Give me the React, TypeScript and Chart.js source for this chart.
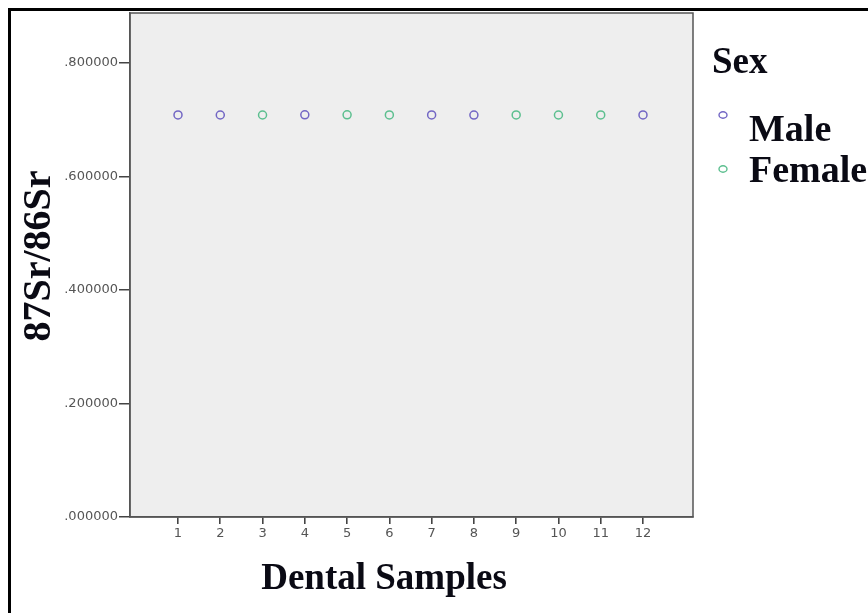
import React, { useEffect, useRef } from "react";
import { Chart, registerables } from "chart.js";

Chart.register(...registerables);

// ---- data ----
const maleSamples = [1, 2, 4, 7, 8, 12];
const maleRatios = [0.7081, 0.7079, 0.7082, 0.7080, 0.7078, 0.7081];
const femaleSamples = [3, 5, 6, 9, 10, 11];
const femaleRatios = [0.7079, 0.7082, 0.7080, 0.7081, 0.7079, 0.7080];
const xTicks = [1, 2, 3, 4, 5, 6, 7, 8, 9, 10, 11, 12];
const yTicks = [0, 0.2, 0.4, 0.6, 0.8];
const seriesNames = ["Male", "Female"];
const legendTitle = "Sex";
const xTitle = "Dental Samples";
const yTitle = "87Sr/86Sr";

const MALE_COLOR = "#7266c4";
const FEMALE_COLOR = "#5cbf8f";
const SERIF = "'Liberation Serif', 'Times New Roman', serif";

const decorPlugin = {
  id: "decor",
  beforeDraw(chart: any) {
    const { ctx, chartArea: a } = chart;
    ctx.save();
    ctx.fillStyle = "#eeeeee";
    ctx.fillRect(a.left, a.top, a.right - a.left, a.bottom - a.top);
    ctx.restore();
  },
  afterDraw(chart: any) {
    const { ctx, chartArea: a } = chart;
    ctx.save();
    // plot frame
    ctx.strokeStyle = "#555555";
    ctx.lineWidth = 1.5;
    ctx.strokeRect(a.left, a.top, a.right - a.left, a.bottom - a.top);
    // outer frame (top & left)
    ctx.fillStyle = "#000000";
    ctx.fillRect(8, 8, 3, 613);
    ctx.fillRect(8, 8, 868, 3);
    // axis titles
    ctx.fillStyle = "#0a0a14";
    ctx.font = `bold 37px ${SERIF}`;
    ctx.textAlign = "center";
    ctx.textBaseline = "alphabetic";
    ctx.fillText(xTitle, 384, 589);
    ctx.save();
    ctx.translate(50, 256);
    ctx.rotate(-Math.PI / 2);
    ctx.font = `bold 40px ${SERIF}`;
    ctx.fillText(yTitle, 0, 0);
    ctx.restore();
    // legend
    ctx.textAlign = "left";
    ctx.font = `bold 37px ${SERIF}`;
    ctx.fillText(legendTitle, 712, 73);
    const colors = [MALE_COLOR, FEMALE_COLOR];
    const baselines = [141, 182];
    const markerY = [115, 169];
    seriesNames.forEach((name, i) => {
      ctx.font = `bold 38px ${SERIF}`;
      ctx.fillStyle = "#0a0a14";
      ctx.fillText(name, 749, baselines[i]);
      ctx.beginPath();
      ctx.ellipse(723, markerY[i], 4, 3.2, 0, 0, Math.PI * 2);
      ctx.strokeStyle = colors[i];
      ctx.lineWidth = 1.4;
      ctx.stroke();
    });
    ctx.restore();
  },
};

export default function App() {
  const ref = useRef<HTMLCanvasElement | null>(null);
  useEffect(() => {
    if (!ref.current) return;
    const tickFont = { family: "'DejaVu Sans', sans-serif", size: 13 };
    const chart = new Chart(ref.current, {
      type: "scatter",
      data: {
        datasets: [
          {
            label: seriesNames[0],
            data: maleSamples.map((x, i) => ({ x, y: maleRatios[i] })),
            borderColor: MALE_COLOR,
            backgroundColor: "rgba(0,0,0,0)",
            pointRadius: 4,
            borderWidth: 1.5,
          },
          {
            label: seriesNames[1],
            data: femaleSamples.map((x, i) => ({ x, y: femaleRatios[i] })),
            borderColor: FEMALE_COLOR,
            backgroundColor: "rgba(0,0,0,0)",
            pointRadius: 4,
            borderWidth: 1.5,
          },
        ],
      },
      options: {
        responsive: false,
        animation: false,
        devicePixelRatio: 1,
        layout: { padding: { left: 0, top: 13, right: 175, bottom: 0 } },
        plugins: { legend: { display: false }, tooltip: { enabled: false } },
        scales: {
          x: {
            type: "linear",
            min: -0.1356,
            max: 13.183,
            afterBuildTicks: (s: any) => {
              s.ticks = xTicks.map((v) => ({ value: v }));
            },
            afterFit: (s: any) => {
              s.height = 96;
            },
            grid: {
              display: true,
              drawOnChartArea: false,
              drawTicks: true,
              tickLength: 7,
              color: "#444444",
              lineWidth: 1.6,
            },
            border: { display: true, color: "#555555", width: 1.5 },
            ticks: {
              font: tickFont,
              color: "#555555",
              padding: 2,
              maxRotation: 0,
              autoSkip: false,
              callback: (v: any) => String(v),
            },
          },
          y: {
            type: "linear",
            min: 0,
            max: 0.8875,
            afterBuildTicks: (s: any) => {
              s.ticks = yTicks.map((v) => ({ value: v }));
            },
            afterFit: (s: any) => {
              s.width = 130;
            },
            grid: {
              display: true,
              drawOnChartArea: false,
              drawTicks: true,
              tickLength: 11,
              color: "#444444",
              lineWidth: 1.5,
            },
            border: { display: true, color: "#555555", width: 1.5 },
            ticks: {
              font: tickFont,
              color: "#555555",
              padding: 1,
              autoSkip: false,
              callback: (v: any) => Number(v).toFixed(6).replace(/^0/, ""),
            },
          },
        },
      },
      plugins: [decorPlugin],
    });
    return () => chart.destroy();
  }, []);
  return (
    <div style={{ position: "fixed", left: 0, top: 0, width: 868, height: 613, background: "#fff" }}>
      <canvas ref={ref} width={868} height={613} style={{ display: "block" }} />
    </div>
  );
}
